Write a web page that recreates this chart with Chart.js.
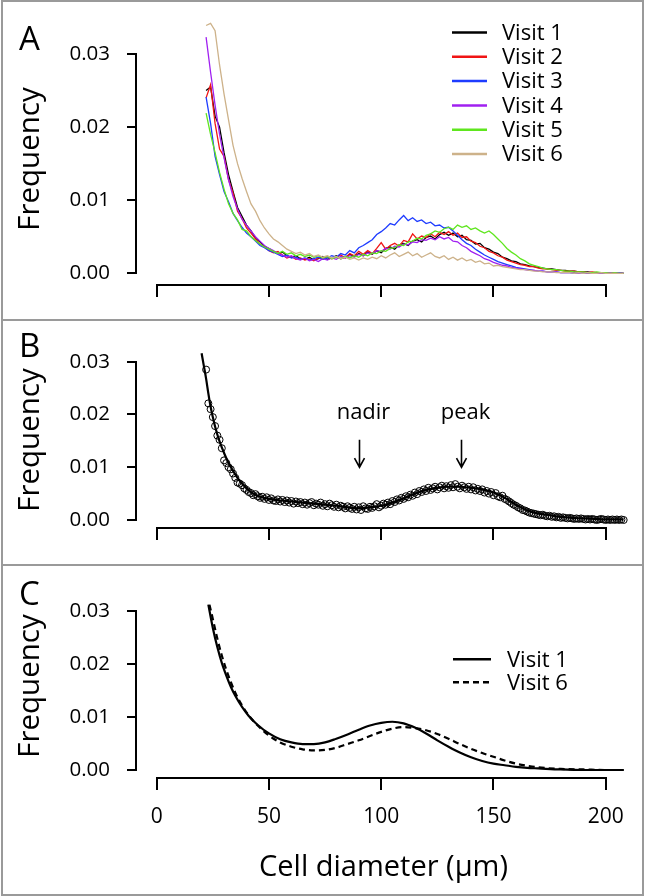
<!DOCTYPE html>
<html><head><meta charset="utf-8">
<script src="https://cdn.jsdelivr.net/npm/chart.js@4.4.1/dist/chart.umd.min.js"></script>
<style>
html,body{margin:0;padding:0;background:#fff;}
body{width:645px;height:896px;position:relative;overflow:hidden;font-family:"Open Sans",sans-serif;}
canvas{position:absolute;left:0;}
.frame{position:absolute;left:1px;top:0;width:643px;height:896px;border:2px solid #9a9a9a;box-sizing:border-box;pointer-events:none;}
.sep{position:absolute;left:1px;width:643px;height:2px;background:#9a9a9a;}
.lab{position:absolute;font-size:33px;line-height:33px;color:#000;}
</style></head>
<body>
<canvas id="cA" width="645" height="320" style="top:0"></canvas>
<canvas id="cB" width="645" height="245" style="top:320px"></canvas>
<canvas id="cC" width="645" height="331" style="top:565px"></canvas>
<div class="frame"></div>
<div class="sep" style="top:319px"></div>
<div class="sep" style="top:564px"></div>
<div class="lab" style="left:19px;top:21px">A</div>
<div class="lab" style="left:19px;top:328px">B</div>
<div class="lab" style="left:19px;top:576px">C</div>
<script>
// ---------- data ----------
const xTickValues = [0, 50, 100, 150, 200];
const xTickLabels = ['0', '50', '100', '150', '200'];
const yTickValues = [0, 0.01, 0.02, 0.03];
const yTickLabels = ['0.00', '0.01', '0.02', '0.03'];
const yTitle = 'Frequency';
const xTitle = 'Cell diameter (\u03bcm)';

// Panel A: observed size distributions, one per visit
const visitLabels = ['Visit 1', 'Visit 2', 'Visit 3', 'Visit 4', 'Visit 5', 'Visit 6'];
const xA = [22,24,26,28,30,32,34,36,38,40,42,44,46,48,50,52,54,56,58,60,62,64,66,68,70,72,74,76,78,80,
  82,84,86,88,90,92,94,96,98,100,102,104,106,108,110,112,114,116,118,120,122,124,126,128,130,132,134,136,138,140,
  142,144,146,148,150,152,154,156,158,160,162,164,166,168,170,172,174,176,178,180,182,184,186,188,190,192,194,196,198,200,
  202,204,206,208];
const visit1 = [.0250,.0255,.0215,.0200,.0165,.0135,.0112,.0090,.0078,.0066,
  .0058,.0048,.0043,.0037,.0034,.0030,.0027,.0029,.0024,.0022,
  .0024,.0020,.0019,.0022,.0018,.0020,.0023,.0019,.0021,.0024,
  .0020,.0022,.0026,.0023,.0027,.0024,.0029,.0026,.0031,.0028,
  .0034,.0036,.0033,.0039,.0041,.0038,.0044,.0046,.0043,.0049,
  .0051,.0047,.0053,.0056,.0052,.0055,.0050,.0052,.0046,.0045,
  .0040,.0041,.0035,.0033,.0029,.0027,.0022,.0020,.0017,.0016,
  .0013,.0012,.0010,.0009,.0008,.0007,.0006,.0006,.0005,.0004,
  .0004,.0003,.0003,.0002,.0002,.0002,.0001,.0001,.0001,.0001,
  .0000,.0001,.0000,.0000];
const visit2 = [.0240,.0258,.0205,.0170,.0160,.0128,.0110,.0085,.0075,.0062,
  .0055,.0047,.0040,.0036,.0031,.0028,.0030,.0025,.0021,.0023,
  .0019,.0021,.0018,.0020,.0017,.0021,.0019,.0023,.0020,.0022,
  .0025,.0021,.0027,.0024,.0030,.0026,.0031,.0027,.0034,.0042,
  .0033,.0038,.0041,.0037,.0045,.0043,.0054,.0047,.0051,.0049,
  .0054,.0050,.0056,.0053,.0057,.0052,.0055,.0049,.0050,.0044,
  .0042,.0037,.0035,.0030,.0028,.0024,.0022,.0018,.0016,.0014,
  .0012,.0011,.0009,.0009,.0007,.0006,.0006,.0005,.0004,.0004,
  .0003,.0003,.0003,.0002,.0002,.0001,.0002,.0001,.0001,.0001,
  .0001,.0000,.0001,.0000];
const visit3 = [.0241,.0205,.0160,.0135,.0112,.0098,.0082,.0072,.0063,.0055,
  .0050,.0044,.0038,.0035,.0031,.0029,.0026,.0023,.0025,.0021,
  .0022,.0019,.0021,.0018,.0020,.0022,.0019,.0021,.0024,.0022,
  .0027,.0025,.0031,.0028,.0035,.0038,.0042,.0046,.0053,.0057,
  .0062,.0068,.0066,.0073,.0079,.0072,.0076,.0071,.0073,.0068,
  .0070,.0065,.0066,.0062,.0063,.0058,.0052,.0046,.0041,.0038,
  .0033,.0029,.0025,.0022,.0019,.0016,.0014,.0012,.0010,.0008,
  .0007,.0006,.0005,.0004,.0003,.0003,.0002,.0002,.0002,.0001,
  .0001,.0001,.0000,.0001,.0001,.0000,.0001,.0000,.0000,.0001,
  .0000,.0000,.0001,.0000];
const visit4 = [.0323,.0275,.0230,.0190,.0158,.0128,.0105,.0088,.0074,.0066,
  .0058,.0050,.0044,.0038,.0034,.0031,.0027,.0025,.0022,.0024,
  .0020,.0018,.0021,.0017,.0019,.0016,.0020,.0018,.0021,.0019,
  .0023,.0021,.0024,.0022,.0026,.0024,.0028,.0027,.0031,.0030,
  .0034,.0033,.0037,.0036,.0040,.0039,.0043,.0042,.0046,.0045,
  .0048,.0046,.0050,.0047,.0049,.0044,.0043,.0038,.0035,.0030,
  .0027,.0024,.0020,.0018,.0015,.0013,.0011,.0010,.0008,.0007,
  .0006,.0005,.0004,.0004,.0003,.0003,.0002,.0002,.0002,.0001,
  .0001,.0001,.0001,.0000,.0001,.0000,.0001,.0000,.0000,.0000,
  .0001,.0000,.0000,.0000];
const visit5 = [.0219,.0190,.0165,.0138,.0115,.0095,.0082,.0073,.0060,.0058,
  .0050,.0045,.0040,.0036,.0033,.0030,.0027,.0030,.0026,.0028,
  .0024,.0026,.0023,.0025,.0022,.0024,.0021,.0023,.0020,.0022,
  .0020,.0023,.0021,.0024,.0022,.0026,.0024,.0028,.0027,.0031,
  .0030,.0034,.0035,.0039,.0038,.0043,.0044,.0048,.0047,.0052,
  .0054,.0058,.0056,.0061,.0063,.0060,.0066,.0063,.0065,.0060,
  .0062,.0058,.0055,.0058,.0053,.0047,.0041,.0034,.0029,.0025,
  .0020,.0017,.0013,.0011,.0009,.0007,.0006,.0005,.0005,.0004,
  .0003,.0003,.0002,.0002,.0002,.0001,.0001,.0002,.0001,.0001,
  .0000,.0001,.0000,.0000];
const visit6 = [.0339,.0342,.0332,.0285,.0245,.0210,.0175,.0150,.0130,.0112,
  .0095,.0085,.0072,.0062,.0054,.0047,.0043,.0038,.0033,.0030,
  .0027,.0029,.0025,.0027,.0023,.0025,.0022,.0024,.0021,.0023,
  .0020,.0022,.0019,.0021,.0018,.0021,.0019,.0022,.0020,.0024,
  .0021,.0025,.0028,.0023,.0026,.0029,.0024,.0027,.0022,.0025,
  .0028,.0023,.0021,.0024,.0019,.0022,.0018,.0021,.0017,.0019,
  .0015,.0017,.0013,.0014,.0010,.0011,.0009,.0008,.0007,.0006,
  .0005,.0005,.0004,.0003,.0003,.0002,.0002,.0002,.0001,.0001,
  .0001,.0001,.0000,.0001,.0000,.0001,.0000,.0000,.0001,.0000,
  .0000,.0000,.0000,.0000];

// Panel B: observed points and fitted curve
const xBpts = [22,23,24,25,26,27,28,29,30,31,32,33,34,35,36,37,38,39,40,41,42,43,44,45,46,47,48,49,50,51,
  52,53,54,55,56,57,58,59,60,61,62,63,64,65,66,67,68,69,70,71,72,73,74,75,76,77,78,79,80,81,
  82,83,84,85,86,87,88,89,90,91,92,93,94,95,96,97,98,99,100,101,102,103,104,105,106,107,108,109,110,111,
  112,113,114,115,116,117,118,119,120,121,122,123,124,125,126,127,128,129,130,131,132,133,134,135,136,137,138,139,140,141,
  142,143,144,145,146,147,148,149,150,151,152,153,154,155,156,157,158,159,160,161,162,163,164,165,166,167,168,169,170,171,
  172,173,174,175,176,177,178,179,180,181,182,183,184,185,186,187,188,189,190,191,192,193,194,195,196,197,198,199,200,201,
  202,203,204,205,206,207,208];
const yBpts = [.0285,.0221,.0210,.0195,.0178,.0160,.0152,.0136,.0113,.0108,
  .0100,.0096,.0088,.0080,.0071,.0069,.0066,.0060,.0057,.0053,
  .0051,.0047,.0049,.0045,.0042,.0044,.0040,.0043,.0038,.0041,
  .0037,.0036,.0039,.0035,.0038,.0034,.0037,.0033,.0036,.0031,
  .0035,.0032,.0034,.0030,.0033,.0029,.0032,.0034,.0028,.0031,
  .0029,.0033,.0027,.0030,.0026,.0031,.0028,.0025,.0029,.0024,
  .0027,.0025,.0022,.0026,.0023,.0021,.0025,.0020,.0024,.0019,
  .0026,.0022,.0021,.0025,.0023,.0026,.0030,.0024,.0027,.0031,
  .0029,.0033,.0030,.0036,.0034,.0039,.0037,.0042,.0040,.0045,
  .0043,.0048,.0046,.0052,.0049,.0055,.0053,.0058,.0055,.0061,
  .0057,.0060,.0063,.0058,.0062,.0065,.0060,.0064,.0061,.0066,
  .0062,.0068,.0063,.0060,.0065,.0062,.0059,.0063,.0058,.0062,
  .0056,.0059,.0055,.0058,.0052,.0055,.0050,.0053,.0047,.0051,
  .0045,.0043,.0046,.0040,.0038,.0035,.0032,.0029,.0027,.0024,
  .0022,.0019,.0018,.0016,.0014,.0013,.0012,.0011,.0010,.0009,
  .0010,.0008,.0007,.0008,.0006,.0007,.0005,.0006,.0004,.0005,
  .0004,.0003,.0004,.0003,.0002,.0003,.0002,.0003,.0002,.0001,
  .0002,.0001,.0002,.0001,.0000,.0001,.0002,.0001,.0000,.0001,
  .0000,.0001,.0000,.0001,.0000,.0001,.0000];
const xBfit = [20,21,22,23,24,25,26,27,28,30,32,34,36,38,40,42,44,46,48,50,
  55,60,65,70,75,80,85,90,95,100,105,110,115,120,125,130,135,140,145,150,
  155,160,165,170,175,180,185,190,195,200,208];
const yBfit = [.0316,.0292,.0268,.0240,.0215,.0195,.0177,.0162,.0149,.0127,.0108,.0093,.0080,.0069,.0060,.0053,.0048,.0044,.0042,.0040,
  .0037,.0035,.0033,.0031,.0029,.0027,.0024,.0022,.0024,.0027,.0033,.0041,.0050,.0057,.0061,.0063,.0063,.0061,.0058,.0052,
  .0042,.0029,.0018,.0012,.0009,.0006,.0004,.0003,.0002,.0001,.0001];
const annotationLabels = ['nadir', 'peak'];
const annotationX = [90, 135.5];

// Panel C: fitted curves
const fitLabels = ['Visit 1', 'Visit 6'];
const xC1 = [23,25,27,29,31,33,35,38,41,45,50,55,60,65,70,75,80,85,90,95,100,105,110,115,120,125,130,135,140,145,150,155,160,165,170,180,190,200,208];
const yC1 = [.0312,.0268,.0232,.0202,.0178,.0157,.0140,.0119,.0102,.0085,
  .0069,.0058,.0052,.0049,.0049,.0052,.0059,.0067,.0076,.0084,
  .0089,.0091,.0088,.0080,.0069,.0056,.0044,.0033,.0024,.0017,
  .0012,.0009,.0006,.0004,.0003,.0001,.0000,.0000,.0000];
const xC6 = [23.5,25,27,29,31,33,35,38,41,45,50,55,60,65,70,75,80,85,90,95,100,105,110,115,120,125,130,135,140,145,150,155,160,165,170,180,190,200,208];
const yC6 = [.0312,.0285,.0248,.0216,.0189,.0166,.0146,.0122,.0103,.0084,
  .0065,.0052,.0044,.0039,.0037,.0038,.0042,.0049,.0056,.0064,
  .0072,.0078,.0081,.0079,.0075,.0068,.0059,.0049,.0040,.0032,
  .0025,.0018,.0012,.0008,.0005,.0002,.0001,.0000,.0000];

// ---------- styling / helpers ----------
const FONT = "'Open Sans', sans-serif";
Chart.defaults.font.family = FONT;
Chart.defaults.color = '#000';
const visitColors = ['#000000', '#f01414', '#1e3cff', '#a020f0', '#5fe61e', '#cdb28a'];
const pts = (xs, ys) => xs.map((x, i) => ({x: x, y: ys[i]}));

function scales(o) {
  return {
    x: {
      type: 'linear', min: o.xmin, max: o.xmax,
      afterBuildTicks: s => { s.ticks = xTickValues.map(v => ({value: v})); },
      afterFit: s => { s.height = o.xH; },
      border: {display: false},
      grid: {drawOnChartArea: false, drawTicks: true, tickLength: 13, color: '#000', lineWidth: 2},
      ticks: {display: o.showX, autoSkip: false, maxRotation: 0, minRotation: 0, padding: 14,
              color: '#000', font: {family: FONT, size: 21}, callback: (v, i) => xTickLabels[i]},
      title: {display: o.showX, text: xTitle, color: '#000', font: {family: FONT, size: 29},
              padding: {top: 0, bottom: 11}}
    },
    y: {
      type: 'linear', min: o.ymin, max: o.ymax,
      afterBuildTicks: s => { s.ticks = yTickValues.map(v => ({value: v})); },
      afterFit: s => { s.width = 137; },
      border: {display: false},
      grid: {drawOnChartArea: false, drawTicks: true, tickLength: 10, color: '#000', lineWidth: 2},
      ticks: {autoSkip: false, padding: 17, color: '#000', font: {family: FONT, size: 20.5},
              callback: (v, i) => yTickLabels[i]},
      title: {display: true, text: yTitle, color: '#000', font: {family: FONT, size: 29.5},
              padding: {top: 13, bottom: 0}}
    }
  };
}

const axisLines = {
  id: 'axisLines',
  afterDraw(chart) {
    const {ctx, chartArea: a, scales: {x, y}} = chart;
    ctx.save();
    ctx.strokeStyle = '#000'; ctx.lineWidth = 2; ctx.lineCap = 'square';
    ctx.beginPath();
    ctx.moveTo(a.left - 1, Math.round(y.getPixelForValue(yTickValues[0])));
    ctx.lineTo(a.left - 1, Math.round(y.getPixelForValue(yTickValues[yTickValues.length - 1])));
    ctx.moveTo(Math.round(x.getPixelForValue(xTickValues[0])), a.bottom + 1);
    ctx.lineTo(Math.round(x.getPixelForValue(xTickValues[xTickValues.length - 1])), a.bottom + 1);
    ctx.stroke();
    ctx.restore();
  }
};

function legendPlugin(id, x0, y0, dy, lineLen, gap) {
  return {
    id: id,
    afterDatasetsDraw(chart) {
      const ctx = chart.ctx;
      ctx.save();
      ctx.font = "22px " + FONT;
      ctx.textBaseline = 'middle';
      ctx.textAlign = 'left';
      chart.data.datasets.filter(d => d.label).forEach((d, i) => {
        const yy = y0 + i * dy;
        ctx.strokeStyle = d.borderColor;
        ctx.lineWidth = d.legendWidth || 2.5;
        ctx.setLineDash(d.borderDash || []);
        ctx.beginPath(); ctx.moveTo(x0, yy); ctx.lineTo(x0 + lineLen, yy); ctx.stroke();
        ctx.setLineDash([]);
        ctx.fillStyle = '#000';
        ctx.fillText(d.label, x0 + lineLen + gap, yy + 1);
      });
      ctx.restore();
    }
  };
}

const arrowsPlugin = {
  id: 'arrows',
  afterDatasetsDraw(chart) {
    const {ctx, scales: {x, y}} = chart;
    ctx.save();
    ctx.font = "22px " + FONT;
    ctx.textAlign = 'center'; ctx.textBaseline = 'middle'; ctx.fillStyle = '#000';
    ctx.strokeStyle = '#000'; ctx.lineWidth = 1.6;
    annotationLabels.forEach((lab, i) => {
      const px = Math.round(x.getPixelForValue(annotationX[i])) + 0.5;
      const ty = y.getPixelForValue(0.0203);
      const top = y.getPixelForValue(0.0152);
      const tip = y.getPixelForValue(0.0100);
      ctx.fillText(lab, px + 4, ty);
      ctx.beginPath();
      ctx.moveTo(px, top); ctx.lineTo(px, tip);
      ctx.moveTo(px - 5, tip - 9); ctx.lineTo(px, tip); ctx.lineTo(px + 5, tip - 9);
      ctx.stroke();
    });
    ctx.restore();
  }
};

const baseOpts = {
  responsive: false, maintainAspectRatio: false, animation: false, devicePixelRatio: 1, events: [],
  plugins: {legend: {display: false}, tooltip: {enabled: false}, title: {display: false}}
};
const XMIN = -8.775, XMAX = 210.82;

// ---------- Panel A ----------
const seriesA = [visit1, visit2, visit3, visit4, visit5, visit6];
new Chart(document.getElementById('cA'), {
  type: 'line',
  data: {datasets: seriesA.map((s, i) => ({
    label: visitLabels[i], data: pts(xA, s), borderColor: visitColors[i], borderWidth: 1.3,
    pointRadius: 0, tension: 0, clip: false, order: 5 - i
  }))},
  options: Object.assign({}, baseOpts, {
    layout: {padding: {left: 0, right: 15, top: 34, bottom: 0}},
    scales: scales({xmin: XMIN, xmax: XMAX, ymin: -0.001464, ymax: 0.032736, xH: 36, showX: false})
  }),
  plugins: [axisLines, legendPlugin('legA', 452, 32.5, 24.3, 35, 15)]
});

// ---------- Panel B ----------
new Chart(document.getElementById('cB'), {
  type: 'line',
  data: {datasets: [
    {data: pts(xBfit, yBfit), borderColor: '#000', borderWidth: 2.2, pointRadius: 0,
     cubicInterpolationMode: 'monotone', clip: false},
    {data: pts(xBpts, yBpts), showLine: false, pointRadius: 3.5, pointBorderWidth: 1,
     pointBorderColor: '#000', pointBackgroundColor: 'rgba(0,0,0,0)', borderColor: '#000', clip: false}
  ]},
  options: Object.assign({}, baseOpts, {
    layout: {padding: {left: 0, right: 15, top: 33, bottom: 0}},
    scales: scales({xmin: XMIN, xmax: XMAX, ymin: -0.001327, ymax: 0.031647, xH: 38, showX: false})
  }),
  plugins: [axisLines, arrowsPlugin]
});

// ---------- Panel C ----------
new Chart(document.getElementById('cC'), {
  type: 'line',
  data: {datasets: [
    {label: fitLabels[0], data: pts(xC1, yC1), borderColor: '#000', borderWidth: 2.2, pointRadius: 0,
     cubicInterpolationMode: 'monotone', clip: false, legendWidth: 2.4},
    {label: fitLabels[1], data: pts(xC6, yC6), borderColor: '#000', borderWidth: 2.2, pointRadius: 0,
     borderDash: [6, 4], cubicInterpolationMode: 'monotone', clip: false, legendWidth: 2.4}
  ]},
  options: Object.assign({}, baseOpts, {
    layout: {padding: {left: 0, right: 15, top: 30, bottom: 0}},
    scales: scales({xmin: XMIN, xmax: XMAX, ymin: -0.00132, ymax: 0.03302, xH: 119, showX: true})
  }),
  plugins: [axisLines, legendPlugin('legC', 453, 94.3, 23, 38, 16)]
});
</script>
</body></html>
